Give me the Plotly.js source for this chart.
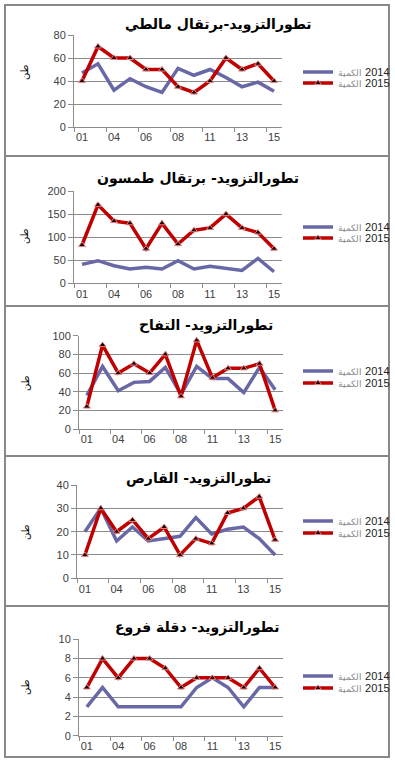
<!DOCTYPE html>
<html><head><meta charset="utf-8">
<script src="https://cdn.plot.ly/plotly-3.0.1.min.js"></script>
<style>html,body{margin:0;padding:0;background:#fff}#chart{width:395px;height:764px}</style>
</head><body><div id="chart"></div>
<script>
// ---- data ----
const categories = ['01','03','04','05','06','07','08','10','11','12','13','14','15'];
const seriesNames = ['<span style="font-size:9px;color:#888">الكمية</span>\u200E 2014', '<span style="font-size:9px;color:#888">الكمية</span>\u200E 2015'];
const panelTitles = ['تطورالتزويد-برتقال مالطي', 'تطورالتزويد- برتقال طمسون', 'تطورالتزويد- التفاح', 'تطورالتزويد- القارص', 'تطورالتزويد- دقلة فروع'];
const unitLabel = 'طن';
const maltaise2014 = [47, 55, 32, 42, 35, 30, 51, 45, 50, 43, 35, 39, 31];
const maltaise2015 = [40, 70, 60, 60, 50, 50, 35, 30, 40, 60, 50, 55, 40];
const thomson2014  = [41, 49, 38, 31, 35, 31, 49, 31, 37, 32, 28, 54, 25];
const thomson2015  = [83, 170, 135, 130, 75, 130, 85, 115, 120, 150, 120, 110, 75];
const apple2014    = [36, 67, 41, 50, 51, 66, 37, 67, 54, 54, 39, 66, 42];
const apple2015    = [24, 90, 60, 70, 60, 80, 35, 95, 55, 65, 65, 70, 20];
const qares2014    = [20, 30, 16, 22, 16, 17, 18, 26, 19, 21, 22, 17, 10];
const qares2015    = [10, 30, 20, 25, 17, 22, 10, 17, 15, 28, 30, 35, 16.5];
const deglet2014   = [3, 5, 3, 3, 3, 3, 3, 5, 6, 5, 3, 5, 5];
const deglet2015   = [5, 8, 6, 8, 8, 7, 5, 6, 6, 6, 5, 7, 5];
const yMax = [80, 200, 100, 40, 10];
const yStep = [20, 50, 20, 10, 2];

const panelData = [[maltaise2014, maltaise2015],[thomson2014, thomson2015],[apple2014, apple2015],[qares2014, qares2015],[deglet2014, deglet2015]];

// ---- layout geometry (pixels) ----
const W = 395, H = 764;
const fx = p => p / W, fy = p => 1 - p / H;
const plotX = [[74,282],[74,282],[79,283],[77,283],[79,283]];
const plotY = [[35,127],[191,283.3],[335.7,429],[485,578.3],[639.3,735.7]];
const titlePos = [[219,25],[198,178],[206,325],[198,478],[197,627]];
const unitY = [72,236,383,532,687];
const legY = [[72,83],[227,238],[371,383],[521,533],[676,688]];
const sepY = [156,306,456,606];

const blue = '#6868a6', red = '#c00000', gridC = '#8c8c8c', txt = '#404040';
const tickFont = {family:'Liberation Sans, Arial, sans-serif', size:11, color:txt};

const traces = [];
const layout = {
  width: W, height: H, margin:{l:0,r:0,t:0,b:0}, paper_bgcolor:'#fff', plot_bgcolor:'rgba(0,0,0,0)',
  showlegend: true, annotations: [], shapes: []
};

panelData.forEach((pair, i) => {
  const n = i + 1;
  const xa = 'xaxis' + (n === 1 ? '' : n), ya = 'yaxis' + (n === 1 ? '' : n);
  const xr = 'x' + (n === 1 ? '' : n), yr = 'y' + (n === 1 ? '' : n);
  layout[xa] = {
    domain:[fx(plotX[i][0]), fx(plotX[i][1])], anchor: yr, type:'category',
    range:[-0.5, categories.length - 0.5], dtick: 2, tick0: 0, tickangle: 0,
    tickson:'boundaries', ticks:'outside', ticklen:4, tickcolor:gridC, tickwidth:1,
    showline:true, linecolor:gridC, linewidth:1, showgrid:false, zeroline:false,
    tickfont: tickFont, fixedrange:true
  };
  layout[ya] = {
    domain:[fy(plotY[i][1]), fy(plotY[i][0])], anchor: xr,
    range:[0, yMax[i]], dtick: yStep[i], tick0: 0,
    ticks:'outside', ticklen:5, tickcolor:gridC, tickwidth:1,
    showline:true, linecolor:gridC, linewidth:1, showgrid:true, gridcolor:gridC, gridwidth:1, zeroline:false,
    tickfont: tickFont, fixedrange:true
  };
  const lgA = i*2 === 0 ? 'legend' : 'legend' + (i*2+1);
  const lgB = 'legend' + (i*2+2);
  traces.push({
    x: categories, y: pair[0], xaxis: xr, yaxis: yr, type:'scatter', mode:'lines',
    name: seriesNames[0], legend: lgA, line:{color:blue, width:3.5}, hoverinfo:'skip'
  });
  traces.push({
    x: categories, y: pair[1], xaxis: xr, yaxis: yr, type:'scatter', mode:'lines+markers',
    name: seriesNames[1], legend: lgB, line:{color:red, width:3.5},
    marker:{symbol:'triangle-up', size:6, color:'#1a0000', line:{color:'#e88080', width:1}}, hoverinfo:'skip'
  });
  [lgA, lgB].forEach((lg, k) => {
    layout[lg] = {
      x: fx(298), y: fy(legY[i][k]), xanchor:'left', yanchor:'middle',
      bgcolor:'rgba(0,0,0,0)', borderwidth:0, itemwidth:30, tracegroupgap:0,
      font:{family:'Liberation Sans, Arial, sans-serif', size:11, color:'#222'}
    };
  });
  layout.annotations.push({
    xref:'paper', yref:'paper', x: fx(titlePos[i][0]), y: fy(titlePos[i][1]), xanchor:'center', yanchor:'middle',
    text: panelTitles[i], showarrow:false,
    font:{family:'DejaVu Sans, sans-serif', size:14, weight:'bold', color:'#000'}
  });
  layout.annotations.push({
    xref:'paper', yref:'paper', x: fx(25), y: fy(unitY[i]), xanchor:'center', yanchor:'middle',
    text: unitLabel, showarrow:false, textangle:-90,
    font:{family:'DejaVu Sans, sans-serif', size:10, color:'#000'}
  });
});

layout.shapes.push({type:'rect', xref:'paper', yref:'paper', x0:fx(5), x1:fx(389), y0:fy(5), y1:fy(757), line:{color:'#888', width:2}});
sepY.forEach(s => layout.shapes.push({type:'line', xref:'paper', yref:'paper', x0:fx(5), x1:fx(389), y0:fy(s), y1:fy(s), line:{color:'#888', width:2}}));

Plotly.newPlot('chart', traces, layout, {staticPlot:true, displayModeBar:false});
</script></body></html>
